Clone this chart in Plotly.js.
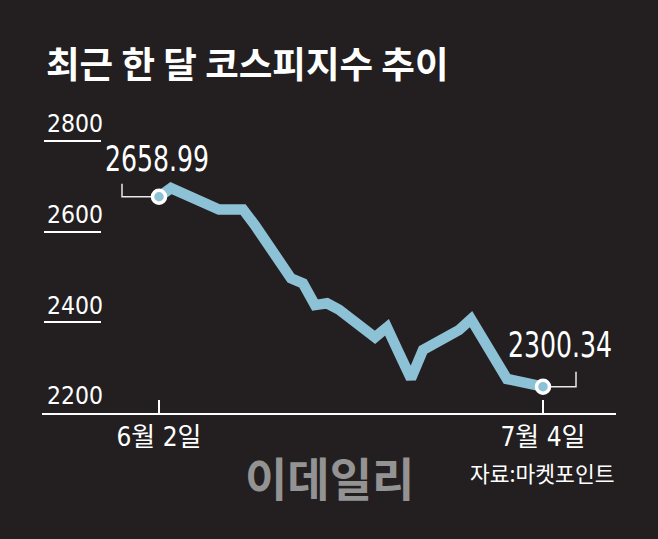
<!DOCTYPE html>
<html>
<head>
<meta charset="utf-8">
<script src="https://cdn.plot.ly/plotly-3.0.1.min.js"></script>
<style>
  html, body { margin: 0; padding: 0; background: #231f20; }
  #chart { width: 658px; height: 539px; }
  /* condense the two big value labels like the original lettering */
  g.annotation[data-index="0"] text.annotation-text,
  g.annotation[data-index="1"] text.annotation-text {
    transform-box: fill-box;
    transform-origin: center;
    transform: scaleX(0.8);
  }
</style>
</head>
<body>
<div id="chart"></div>
<script>
// ---- data ----
const dates = ['2022-06-02','2022-06-03','2022-06-07','2022-06-08','2022-06-09','2022-06-10',
               '2022-06-13','2022-06-14','2022-06-15','2022-06-16','2022-06-17','2022-06-20',
               '2022-06-21','2022-06-22','2022-06-23','2022-06-24','2022-06-27','2022-06-28',
               '2022-06-29','2022-06-30','2022-07-01','2022-07-04'];
const kospi = [2677, 2696, 2649, 2649, 2649, 2614,
               2497, 2486, 2438, 2442, 2428, 2367,
               2389, 2332, 2276, 2339, 2383, 2407,
               2361, 2317, 2275, 2258];
const yTickVals = [2200, 2400, 2600, 2800];
const yTickText = ['2200', '2400', '2600', '2800'];
const xTickText = ['6월 2일', '7월 4일'];
const firstLabel = '2658.99';
const lastLabel = '2300.34';
const titleText = '최근 한 달 코스피지수 추이';
const sourceText = '자료:마켓포인트';
const watermarkText = '이데일리';

// ---- styling ----
const BG = '#231f20';
const LINE = '#8dc1d6';
const NUM_FONT = '"Liberation Sans Narrow", "Arial Narrow", "DejaVu Sans Condensed", "Noto Sans CJK KR", sans-serif';
const KR_FONT = '"Noto Sans CJK KR", "Noto Sans", sans-serif';

const n = dates.length;
const endX = [dates[0], dates[n - 1]];
const endY = [kospi[0], kospi[n - 1]];

const traces = [
  {
    type: 'scatter', mode: 'lines', x: dates, y: kospi,
    line: { color: LINE, width: 10.5, shape: 'linear' },
    hoverinfo: 'skip', showlegend: false
  },
  {
    type: 'scatter', mode: 'markers', x: endX, y: endY,
    marker: { size: 13, color: LINE, line: { color: '#ffffff', width: 3.5 } },
    hoverinfo: 'skip', showlegend: false
  },
  // invisible trace to activate the left label axis
  {
    type: 'scatter', mode: 'lines', x: [0, 1], y: [yTickVals[0], yTickVals[0]],
    xaxis: 'x2', yaxis: 'y2', line: { width: 0 }, hoverinfo: 'skip', showlegend: false
  }
];

const layout = {
  width: 658, height: 539,
  paper_bgcolor: BG, plot_bgcolor: 'rgba(0,0,0,0)',
  margin: { l: 42, r: 42, t: 100, b: 126 },
  title: {
    text: titleText,
    x: 46 / 658, xref: 'container', xanchor: 'left',
    y: 1 - 65 / 539, yref: 'container', yanchor: 'middle',
    font: { family: KR_FONT, size: 36.5, color: '#ffffff', weight: 'bold' }
  },
  xaxis: {
    type: 'date',
    range: ['2022-05-23 06:00', '2022-07-10 02:00'],
    domain: [0, 1],
    showgrid: false, zeroline: false,
    showline: true, linecolor: '#ffffff', linewidth: 2,
    ticks: 'inside', ticklen: 13, tickwidth: 1.5, tickcolor: '#ffffff',
    tickvals: endX, ticktext: xTickText,
    tickfont: { family: NUM_FONT, size: 26, color: '#ffffff' },
    fixedrange: true
  },
  yaxis: {
    range: [2200, 2890.4],
    showgrid: false, zeroline: false, showticklabels: false, showline: false,
    fixedrange: true
  },
  xaxis2: {
    domain: [2 / 574, 59 / 574], range: [0, 1], anchor: 'y2',
    visible: false, fixedrange: true
  },
  yaxis2: {
    range: [2200, 2890.4], anchor: 'x2', overlaying: 'y',
    showgrid: true, gridcolor: '#ffffff', gridwidth: 2,
    zeroline: false, showline: false, ticks: '',
    tickvals: yTickVals, ticktext: yTickText,
    ticklabelposition: 'inside top',
    tickfont: { family: NUM_FONT, size: 24.5, color: '#ffffff' },
    fixedrange: true
  },
  shapes: [
    {
      type: 'path', layer: 'below',
      xref: 'x', yref: 'y', xsizemode: 'pixel', ysizemode: 'pixel',
      xanchor: endX[0], yanchor: endY[0],
      path: 'M-37,13 L-37,0 L-8,0',
      line: { color: '#e8e8e8', width: 1.5 }
    },
    {
      type: 'path', layer: 'below',
      xref: 'x', yref: 'y', xsizemode: 'pixel', ysizemode: 'pixel',
      xanchor: endX[1], yanchor: endY[1],
      path: 'M8,0 L33,0 L33,15',
      line: { color: '#e8e8e8', width: 1.5 }
    }
  ],
  annotations: [
    {
      text: firstLabel, x: endX[0], y: endY[0], xref: 'x', yref: 'y',
      showarrow: false, xanchor: 'center', yanchor: 'middle',
      xshift: -2, yshift: 38,
      font: { family: NUM_FONT, size: 35, color: '#ffffff' }
    },
    {
      text: lastLabel, x: endX[1], y: endY[1], xref: 'x', yref: 'y',
      showarrow: false, xanchor: 'center', yanchor: 'middle',
      xshift: 17, yshift: 42,
      font: { family: NUM_FONT, size: 35, color: '#ffffff' }
    },
    {
      text: sourceText, x: 1, y: (413 - 472.5) / 313, xref: 'paper', yref: 'paper',
      showarrow: false, xanchor: 'right', yanchor: 'middle',
      font: { family: KR_FONT, size: 21.5, color: '#ffffff' }
    },
    {
      text: watermarkText, x: (329 - 42) / 574, y: (413 - 476) / 313, xref: 'paper', yref: 'paper',
      showarrow: false, xanchor: 'center', yanchor: 'middle',
      font: { family: KR_FONT, size: 46, color: '#939393', weight: 'bold' }
    }
  ]
};

Plotly.newPlot('chart', traces, layout, { staticPlot: true, displayModeBar: false });
</script>
</body>
</html>
